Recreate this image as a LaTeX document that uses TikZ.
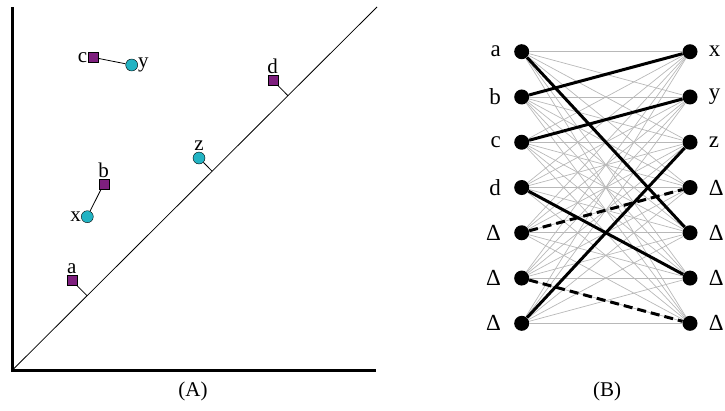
\documentclass[tikz,border=0pt]{standalone}
\usepackage{fontspec}
\setmainfont{Liberation Serif}
\usetikzlibrary{calc,positioning}
\definecolor{plum}{HTML}{7E1F7E}
\definecolor{aqua}{HTML}{22B3C3}
\tikzset{
  pbox/.style={draw,fill=plum,minimum size=10pt,inner sep=0pt},
  pdot/.style={draw,fill=aqua,circle,minimum size=12pt,inner sep=0pt},
  vdot/.style={fill,circle,minimum size=15pt,inner sep=0pt},
  lab/.style={font=\fontsize{21}{24}\selectfont,inner sep=1pt},
  blab/.style={font=\fontsize{23}{26}\selectfont,inner sep=1pt},
  match/.style={line width=3pt},
}
\begin{document}
\begin{tikzpicture}[x=1pt,y=-1pt]
\useasboundingbox (0,0) rectangle (725,410);
% (A) points and the diagonal
\coordinate (o) at (12.5,370);
\coordinate (top) at (377,7);
\draw[line width=3pt] (12.5,7) -- (o) -- (376,370);
\draw[line width=0.8pt] (o) -- (top);
\node[pbox,label={[lab]above:a}] (a) at (71.7,280.3) {};
\node[pbox,label={[lab]above:b}] (b) at (103.7,184) {};
\node[pbox,label={[lab,label distance=-1pt]left:c}] (c) at (92.7,57.3) {};
\node[pbox,label={[lab]above:d}] (d) at (272.7,80.3) {};
\node[pdot,label={[lab,label distance=-1pt]left:x}] (x) at (87.3,216.7) {};
\node[pdot,label={[lab,label distance=-1pt]right:y}] (y) at (131.7,65) {};
\node[pdot,label={[lab]above:z}] (z) at (199,158) {};
\draw[line width=0.8pt] (c) -- (y);
\draw[line width=0.8pt] (b) -- (x);
\foreach \p in {a,d,z}
  \draw[line width=0.8pt] (\p) -- ($(o)!(\p)!(top)$);
\node[lab] (capA) at (193,391) {(A)};
% (B) bipartite graph
\foreach \t [count=\i] in {a,b,c,d,Δ,Δ,Δ}
  \node[vdot,label={[blab,label distance=12pt]left:\t}] (L\i) at (521.7,{51.7+45.27*(\i-1)}) {};
\foreach \t [count=\i] in {x,y,z,Δ,Δ,Δ,Δ}
  \node[vdot,label={[blab,label distance=10pt]right:\t}] (R\i) at (690,{51.7+45.27*(\i-1)}) {};
\foreach \i in {1,...,7}
  \foreach \j in {1,...,7}
    \draw[black!28,line width=0.7pt] (L\i) -- (R\j);
\foreach \i/\j in {1/5,2/1,3/2,4/6,7/3}
  \draw[match] (L\i) -- (R\j);
\foreach \i/\j in {5/4,6/7}
  \draw[match,dash pattern=on 9pt off 5pt] (L\i) -- (R\j);
\node[lab] (capB) at (607,391) {(B)};
\end{tikzpicture}
\end{document}
